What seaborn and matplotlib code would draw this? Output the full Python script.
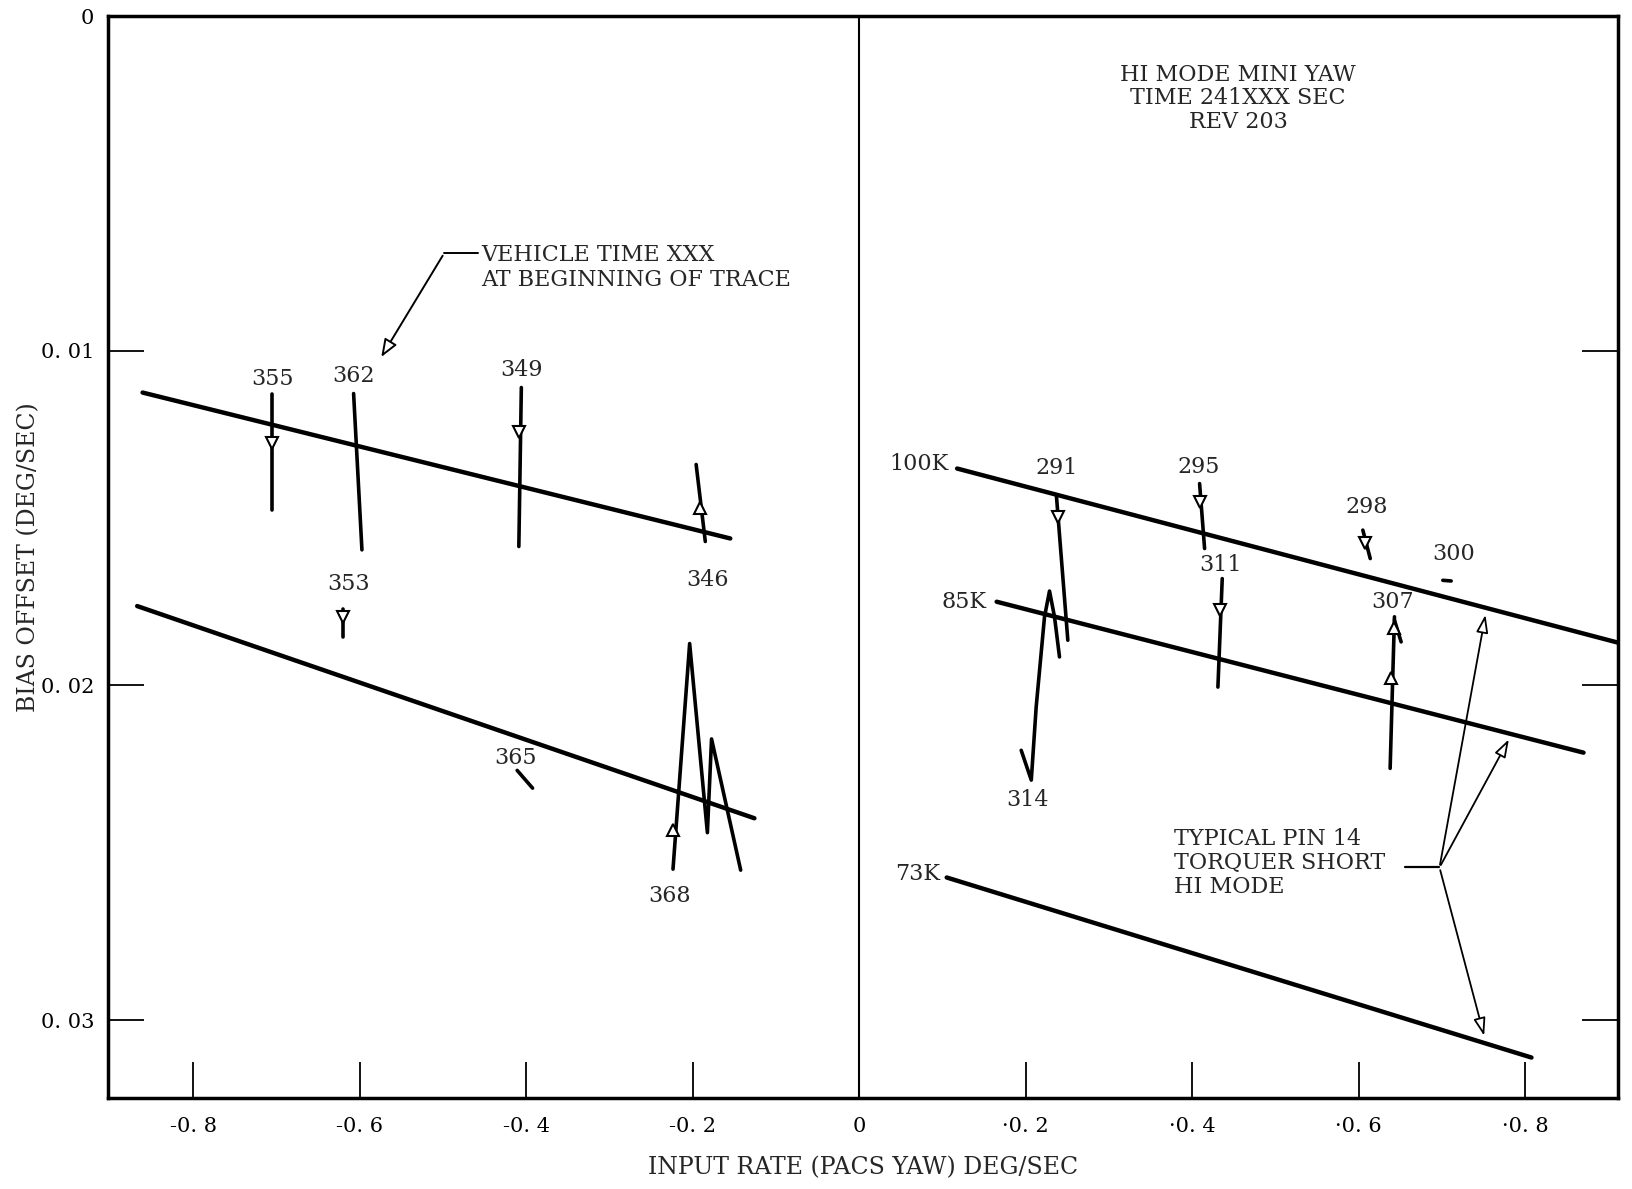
import numpy as np
import pandas as pd
import seaborn as sns
import matplotlib.pyplot as plt

# straight bias lines (x in deg/sec, y = bias offset deg/sec)
line_names = ["left_upper", "left_lower", "100K", "85K", "73K"]
line_x = [[-0.861, -0.155], [-0.8675, -0.126], [0.1175, 0.911], [0.165, 0.87], [0.105, 0.8075]]
line_y = [[0.01125, 0.01561], [0.01763, 0.02397], [0.01352, 0.01872], [0.0175, 0.02201], [0.02574, 0.03112]]

# traces drawn over the lines
trace_names = ["355", "362", "349", "346", "353", "365", "368", "291", "314", "295", "298", "300", "311", "307", "307b"]
trace_x = [
    [-0.706, -0.706], [-0.6075, -0.5975], [-0.406, -0.409], [-0.196, -0.185],
    [-0.62, -0.62], [-0.411, -0.3925],
    [-0.2238, -0.2038, -0.1825, -0.1775, -0.1425],
    [0.2367, 0.2505],
    [0.1945, 0.2066, 0.2125, 0.2225, 0.2285, 0.2345, 0.2405],
    [0.4088, 0.4148], [0.6049, 0.6138], [0.701, 0.711], [0.436, 0.4308],
    [0.6429, 0.6377], [0.6429, 0.6509],
]
trace_y = [
    [0.01128, 0.01477], [0.01128, 0.01595], [0.0111, 0.01585], [0.0134, 0.0157],
    [0.01772, 0.01856], [0.02254, 0.02307],
    [0.02549, 0.01875, 0.0244, 0.0216, 0.02552],
    [0.0143, 0.01865],
    [0.02194, 0.02283, 0.02064, 0.01795, 0.01718, 0.01795, 0.01915],
    [0.01397, 0.01591], [0.01536, 0.01621], [0.01686, 0.01688], [0.01681, 0.02005],
    [0.01795, 0.02248], [0.01805, 0.0187],
]

# open arrowheads on traces: x, y, direction
arrow_x = [-0.706, -0.409, -0.1915, -0.62, -0.2235, 0.2384, 0.4088, 0.6075, 0.4335, 0.6385, 0.6425]
arrow_y = [0.01275, 0.01244, 0.0147, 0.01795, 0.02432, 0.01497, 0.01452, 0.01575, 0.01775, 0.01979, 0.0183]
arrow_dir = ["v", "v", "^", "v", "^", "v", "v", "v", "v", "^", "^"]

# text labels on the traces / lines
label_text = ["355", "362", "349", "353", "346", "365", "368", "291", "295", "298", "300", "311", "307", "314"]
label_x = [-0.705, -0.6075, -0.406, -0.614, -0.1825, -0.4125, -0.2275, 0.2375, 0.4075, 0.609, 0.714, 0.434, 0.641, 0.2025]
label_y = [0.01085, 0.01076, 0.01057, 0.01697, 0.01685, 0.02217, 0.0263, 0.01349, 0.01346, 0.01467, 0.01607, 0.01641, 0.0175, 0.02341]

altitude_text = ["100K", "85K", "73K"]
altitude_x = [0.1075, 0.1525, 0.0975]
altitude_y = [0.01337, 0.0175, 0.02565]

# "typical pin 14" leader: hub and arrow tips
pin_hub = (0.697, 0.02544)
pin_start_x = 0.6561
pin_tips_x = [0.7528, 0.7819, 0.7515]
pin_tips_y = [0.01781, 0.02154, 0.03055]

# vehicle time leader
veh_text_xy = (-0.45375, 0.00752)
veh_hub = (-0.4988, 0.00709)
veh_end_x = -0.4575
veh_tip = (-0.576, 0.01026)

xticks = [-0.8, -0.6, -0.4, -0.2, 0, 0.2, 0.4, 0.6, 0.8]
xtick_labels = ["-0. 8", "-0. 6", "-0. 4", "-0. 2", "0", "\u00b70. 2", "\u00b70. 4", "\u00b70. 6", "\u00b70. 8"]
yticks = [0, 0.01, 0.02, 0.03]
ytick_labels = ["0", "0. 01", "0. 02", "0. 03"]

sns.set_theme(style="white")
plt.rcParams["font.family"] = ["DejaVu Serif", "Liberation Serif"]
FS = 16

fig = plt.figure(figsize=(16.32, 11.89), dpi=100)
ax = fig.add_axes([0.0662, 0.0765, 0.925, 0.910])

lines = pd.DataFrame({
    "name": np.repeat(line_names, 2),
    "x": np.concatenate(line_x),
    "y": np.concatenate(line_y),
})
sns.lineplot(data=lines, x="x", y="y", units="name", estimator=None, sort=False,
             color="black", lw=3.2, ax=ax)

for tx, ty in zip(trace_x, trace_y):
    sns.lineplot(x=tx, y=ty, sort=False, estimator=None, color="black", lw=2.6, ax=ax)

for x, y, d in zip(arrow_x, arrow_y, arrow_dir):
    ax.plot(x, y, marker=d, ms=9, mfc="white", mec="black", mew=1.5, ls="none", zorder=5)

# divider at zero
ax.axvline(0, color="black", lw=1.5)

for t, x, y in zip(label_text, label_x, label_y):
    ax.text(x, y, t, ha="center", va="center", fontsize=FS)
for t, x, y in zip(altitude_text, altitude_x, altitude_y):
    ax.text(x, y, t, ha="right", va="center", fontsize=FS)

ax.text(0.455, 0.002456, "HI MODE MINI YAW\nTIME 241XXX SEC\nREV 203",
        ha="center", va="center", fontsize=FS, linespacing=1.1)
ax.text(veh_text_xy[0], veh_text_xy[1], "VEHICLE TIME XXX\nAT BEGINNING OF TRACE",
        ha="left", va="center", fontsize=FS, linespacing=1.2)
ax.text(0.3775, 0.02531, "TYPICAL PIN 14\nTORQUER SHORT\nHI MODE",
        ha="left", va="center", fontsize=FS, linespacing=1.1)

ax.plot([veh_end_x, veh_hub[0]], [veh_hub[1], veh_hub[1]], color="black", lw=1.4)
ax.annotate("", xy=veh_tip, xytext=veh_hub,
            arrowprops=dict(arrowstyle="-|>,head_length=0.9,head_width=0.35",
                            color="black", lw=1.4, fc="white"))

ax.plot([pin_start_x, pin_hub[0]], [pin_hub[1], pin_hub[1]], color="black", lw=1.6)
for x, y in zip(pin_tips_x, pin_tips_y):
    ax.annotate("", xy=(x, y), xytext=pin_hub,
                arrowprops=dict(arrowstyle="-|>,head_length=0.9,head_width=0.3",
                                color="black", lw=1.3, fc="white"))

ax.set_xlim(-0.9025, 0.911)
ax.set_ylim(0.03233, 0)
ax.set_xticks(xticks)
ax.set_xticklabels(xtick_labels, fontsize=15)
ax.set_yticks(yticks)
ax.set_yticklabels(ytick_labels, fontsize=15)
ax.tick_params(axis="x", direction="in", length=26, width=1.3, pad=14, colors="black")
ax.tick_params(axis="y", direction="in", length=26, width=1.3, pad=10, right=True, colors="black")
ax.tick_params(left=True, bottom=True)

ax.set_xlabel("INPUT RATE (PACS YAW) DEG/SEC", fontsize=17, labelpad=14)
ax.set_ylabel("BIAS OFFSET (DEG/SEC)", fontsize=17, labelpad=0)

for s in ax.spines.values():
    s.set_color("black")
    s.set_linewidth(2.5)

fig.savefig("out.png", dpi=100)
